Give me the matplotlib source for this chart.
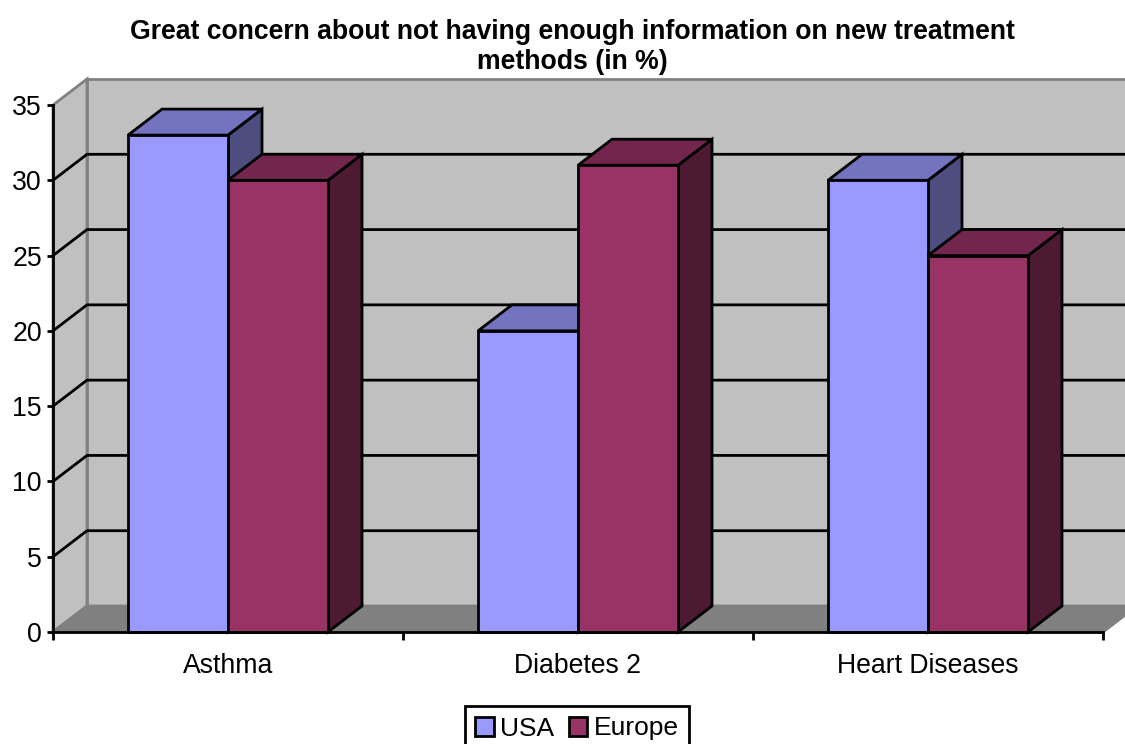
import matplotlib.pyplot as plt
from matplotlib.patches import Patch

plt.rcParams['font.family'] = ['Liberation Sans', 'DejaVu Sans']

categories = ['Asthma', 'Diabetes 2', 'Heart Diseases']
usa = [33, 20, 30]
europe = [30, 31, 25]
y_ticks = [0, 5, 10, 15, 20, 25, 30, 35]

title = 'Great concern about not having enough information on new treatment\nmethods (in %)'

# depth of the fake 3D box, in data units
depth_x = 34 / 350
depth_y = 26 / (527 / 35)
bar_width = 100 / 350
line_w = 2.0


def draw_bar(ax, left, value, front, top, side):
    right = left + bar_width
    ax.fill([right, right + depth_x, right + depth_x, right],
            [0, depth_y, value + depth_y, value],
            facecolor=side, edgecolor='black', linewidth=line_w, zorder=3, clip_on=False)
    ax.fill([left, left + depth_x, right + depth_x, right],
            [value, value + depth_y, value + depth_y, value],
            facecolor=top, edgecolor='black', linewidth=line_w, zorder=3, clip_on=False)
    ax.bar(left, value, width=bar_width, align='edge', facecolor=front,
           edgecolor='black', linewidth=line_w, zorder=3, clip_on=False)


fig = plt.figure(figsize=(11.25, 7.44), dpi=100)
ax = fig.add_axes([53 / 1125, 112 / 744, 1050 / 1125, 527 / 744])
ax.set_xlim(0, 3)
ax.set_ylim(0, 35)
ax.patch.set_visible(False)

# walls and floor
ax.fill([0, depth_x, depth_x, 0], [0, depth_y, 35 + depth_y, 35],
        facecolor='#C0C0C0', edgecolor='#808080', linewidth=line_w, zorder=1, clip_on=False)
ax.fill([depth_x, 3 + depth_x, 3 + depth_x, depth_x], [depth_y, depth_y, 35 + depth_y, 35 + depth_y],
        facecolor='#C0C0C0', edgecolor='#808080', linewidth=line_w, zorder=1, clip_on=False)
ax.fill([0, depth_x, 3 + depth_x, 3], [0, depth_y, depth_y, 0],
        facecolor='#808080', edgecolor='#808080', linewidth=line_w, zorder=1, clip_on=False)

# gridlines run along the left wall and then across the back wall
for v in y_ticks[1:-1]:
    ax.plot([0, depth_x, 3 + depth_x], [v, v + depth_y, v + depth_y],
            color='black', linewidth=line_w, zorder=2, clip_on=False)

for i in range(len(categories)):
    left = i + 75 / 350
    draw_bar(ax, left, usa[i], '#9999FF', '#7373BF', '#4D4D80')
    draw_bar(ax, left + bar_width, europe[i], '#993366', '#73264D', '#4D1A33')

for name in ['top', 'right']:
    ax.spines[name].set_visible(False)
for name in ['left', 'bottom']:
    ax.spines[name].set_linewidth(line_w)
    ax.spines[name].set_zorder(4)

ax.set_yticks(y_ticks)
ax.tick_params(axis='y', length=4, width=line_w, labelsize=19.2, pad=4)
ax.set_xticks([0, 1, 2, 3])
ax.set_xticklabels([])
ax.tick_params(axis='x', length=6, width=line_w)
ax.set_xticks([0.5, 1.5, 2.5], labels=categories, minor=True)
ax.tick_params(axis='x', which='minor', length=0, labelsize=19.2, pad=15)

fig.text(572.5 / 1125, 1 - 47 / 744, title, ha='center', va='center',
         fontsize=19.2, fontweight='bold', linespacing=1.2)

handles = [Patch(facecolor='#9999FF', edgecolor='black', linewidth=line_w, label='USA'),
           Patch(facecolor='#993366', edgecolor='black', linewidth=line_w, label='Europe')]
leg = fig.legend(handles=handles, ncol=2, loc='center', bbox_to_anchor=(577 / 1125, 1 - 728.5 / 744),
                 fontsize=19, fancybox=False, edgecolor='black', framealpha=1,
                 handlelength=0.7, handleheight=0.7, handletextpad=0.25,
                 columnspacing=0.54, borderpad=0.4, borderaxespad=0)
leg.get_frame().set_linewidth(line_w)

fig.savefig('out.png', dpi=100)
